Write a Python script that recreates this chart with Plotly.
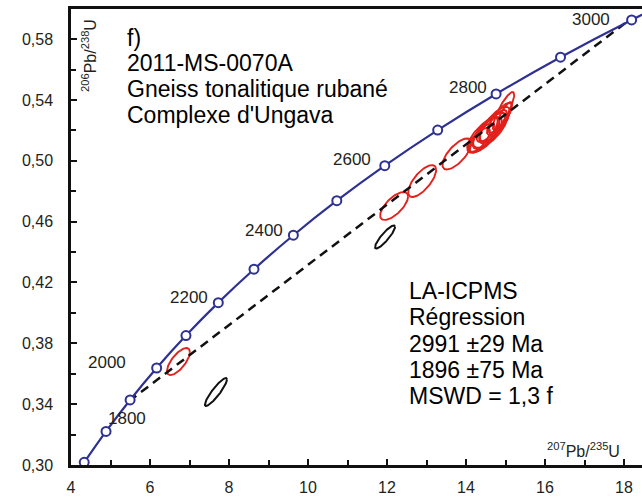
import numpy as np
import plotly.graph_objects as go

# ---- data ----
# concordia marker ages (Ma)
ages = [1700, 1800, 1900, 2000, 2100, 2200, 2300, 2400, 2500, 2600, 2700, 2800, 2900, 3000]
label_ages = [1800, 2000, 2200, 2400, 2600, 2800, 3000]
# discordia intercepts (Ma)
upper_age = 2991
lower_age = 1896
# red (regression) ellipses: 207Pb/235U, 2s; 206Pb/238U, 2s; rho
red_x = [6.72, 12.18, 12.89, 13.77, 14.47, 14.61, 14.73, 14.95, 14.33, 14.54, 14.78, 14.97,
         14.41, 14.66, 14.86, 14.51]
red_sx = [0.29, 0.354, 0.354, 0.367, 0.44, 0.43, 0.38, 0.27, 0.28, 0.27, 0.25, 0.19,
          0.32, 0.33, 0.30, 0.34]
red_y = [0.368, 0.4703, 0.4867, 0.5045, 0.517, 0.520, 0.524, 0.5327, 0.5137, 0.5203, 0.5252, 0.5301,
         0.515, 0.5216, 0.5283, 0.5183]
red_sy = [0.0089, 0.0092, 0.0105, 0.0102, 0.0118, 0.0115, 0.0115, 0.0125, 0.0079, 0.0079, 0.0082, 0.0085,
          0.0095, 0.0100, 0.0098, 0.0105]
red_rho = [0.7, 0.68, 0.7, 0.7, 0.72, 0.72, 0.75, 0.85, 0.7, 0.7, 0.75, 0.82,
           0.72, 0.74, 0.78, 0.7]
# black (excluded) ellipses
blk_x = [7.67, 11.95]
blk_sx = [0.28, 0.253]
blk_y = [0.348, 0.4499]
blk_sy = [0.0092, 0.0076]
blk_rho = [0.9, 0.88]

title_lines = ["f)", "2011-MS-0070A", "Gneiss tonalitique rubané", "Complexe d'Ungava"]
result_lines = ["LA-ICPMS", "Régression", "2991 ±29 Ma", "1896 ±75 Ma", "MSWD = 1,3 f"]

L238 = 1.55125e-10
L235 = 9.8485e-10


def conc(t_ma):
    t = np.asarray(t_ma, dtype=float) * 1e6
    return np.exp(L235 * t) - 1, np.exp(L238 * t) - 1


def ellipse(cx, sx, cy, sy, rho, n=120):
    th = np.linspace(0, 2 * np.pi, n)
    x = cx + sx * np.cos(th)
    y = cy + sy * (rho * np.cos(th) + np.sqrt(1 - rho ** 2) * np.sin(th))
    return x, y


W, H = 642, 499
ML, MR, MT, MB = 71, 0, 9, 34
PW, PH = W - ML - MR, H - MT - MB


def pp(px, py):
    return (px - ML) / PW, (H - MB - py) / PH


NAVY = "#2E3192"
RED = "#E3201B"
FONT = "Liberation Sans, Arial, sans-serif"
TXT = "#231F20"

fig = go.Figure()

for i in range(len(red_x)):
    ex, ey = ellipse(red_x[i], red_sx[i], red_y[i], red_sy[i], red_rho[i])
    fig.add_trace(go.Scatter(x=ex, y=ey, mode="lines", line=dict(color=RED, width=1.9),
                             hoverinfo="skip", showlegend=False))
for i in range(len(blk_x)):
    ex, ey = ellipse(blk_x[i], blk_sx[i], blk_y[i], blk_sy[i], blk_rho[i])
    fig.add_trace(go.Scatter(x=ex, y=ey, mode="lines", line=dict(color="#111111", width=2),
                             hoverinfo="skip", showlegend=False))

dx, dy = conc([lower_age, upper_age])
fig.add_trace(go.Scatter(x=dx, y=dy, mode="lines",
                         line=dict(color="#111111", width=2.5, dash="9px,6px"),
                         hoverinfo="skip", showlegend=False))

cx_line, cy_line = conc(ages + [3100])
fig.add_trace(go.Scatter(x=cx_line, y=cy_line, mode="lines", line=dict(color=NAVY, width=2.2, shape="spline"),
                         hoverinfo="skip", showlegend=False))
mx, my = conc(ages)
fig.add_trace(go.Scatter(x=mx, y=my, mode="markers", cliponaxis=False,
                         marker=dict(symbol="circle", size=9, color="white",
                                     line=dict(color=NAVY, width=2)),
                         hoverinfo="skip", showlegend=False))

annotations = []
shifts = {1800: (21, 13), 2000: (-50, 6), 2200: (-29, 5), 2400: (-29, 5),
          2600: (-33, 6), 2800: (-28, 6), 3000: (-41, 0)}
lx, ly = conc(label_ages)
for a, x, y in zip(label_ages, lx, ly):
    sx_, sy_ = shifts[a]
    annotations.append(dict(x=x, y=y, xref="x", yref="y", text=str(a), showarrow=False,
                            xshift=sx_, yshift=sy_, font=dict(family=FONT, size=17, color=TXT)))

for i, t in enumerate(title_lines):
    px_, py_ = pp(125, 38 + i * 25.5)
    annotations.append(dict(x=px_, y=py_, xref="paper", yref="paper", text=t, showarrow=False,
                            xanchor="left", yanchor="middle", font=dict(family=FONT, size=23, color="#000")))
for i, t in enumerate(result_lines):
    px_, py_ = pp(407, 291 + i * 26.3)
    annotations.append(dict(x=px_, y=py_, xref="paper", yref="paper", text=t, showarrow=False,
                            xanchor="left", yanchor="middle", font=dict(family=FONT, size=23, color="#000")))

px_, py_ = pp(622, 450)
annotations.append(dict(x=px_, y=py_, xref="paper", yref="paper",
                        text="<sup>207</sup>Pb/<sup>235</sup>U", showarrow=False,
                        xanchor="right", yanchor="middle", font=dict(family=FONT, size=16, color=TXT)))
px_, py_ = pp(89, 56)
annotations.append(dict(x=px_, y=py_, xref="paper", yref="paper",
                        text="<sup>206</sup>Pb/<sup>238</sup>U", showarrow=False, textangle=-90,
                        xanchor="center", yanchor="middle", font=dict(family=FONT, size=16, color=TXT)))

fig.update_layout(
    width=W, height=H, margin=dict(l=ML, r=MR, t=MT, b=MB),
    paper_bgcolor="white", plot_bgcolor="white",
    separators=", ",
    annotations=annotations,
    showlegend=False,
    xaxis=dict(range=[4, 4 + PW / 39.5], tick0=4, dtick=2, ticks="inside", ticklen=6, tickwidth=2,
               tickcolor="#111", showline=True, linewidth=2.5, linecolor="#111", mirror=True,
               showgrid=False, zeroline=False, ticklabelstandoff=6,
               tickfont=dict(family=FONT, size=16, color=TXT),
               minor=dict(dtick=1, tick0=4, ticks="inside", ticklen=5, tickwidth=2, tickcolor="#111",
                          showgrid=False)),
    yaxis=dict(range=[0.30, 0.30 + PH / 1521], tick0=0.30, dtick=0.04, tickformat=".2f",
               ticks="inside", ticklen=6, tickwidth=2, tickcolor="#111",
               showline=True, linewidth=2.5, linecolor="#111", mirror=False,
               showgrid=False, zeroline=False, ticklabelstandoff=12,
               tickfont=dict(family=FONT, size=16, color=TXT),
               minor=dict(dtick=0.02, tick0=0.30, ticks="inside", ticklen=5, tickwidth=2, tickcolor="#111",
                          showgrid=False)),
)

fig.write_html("out.html")
